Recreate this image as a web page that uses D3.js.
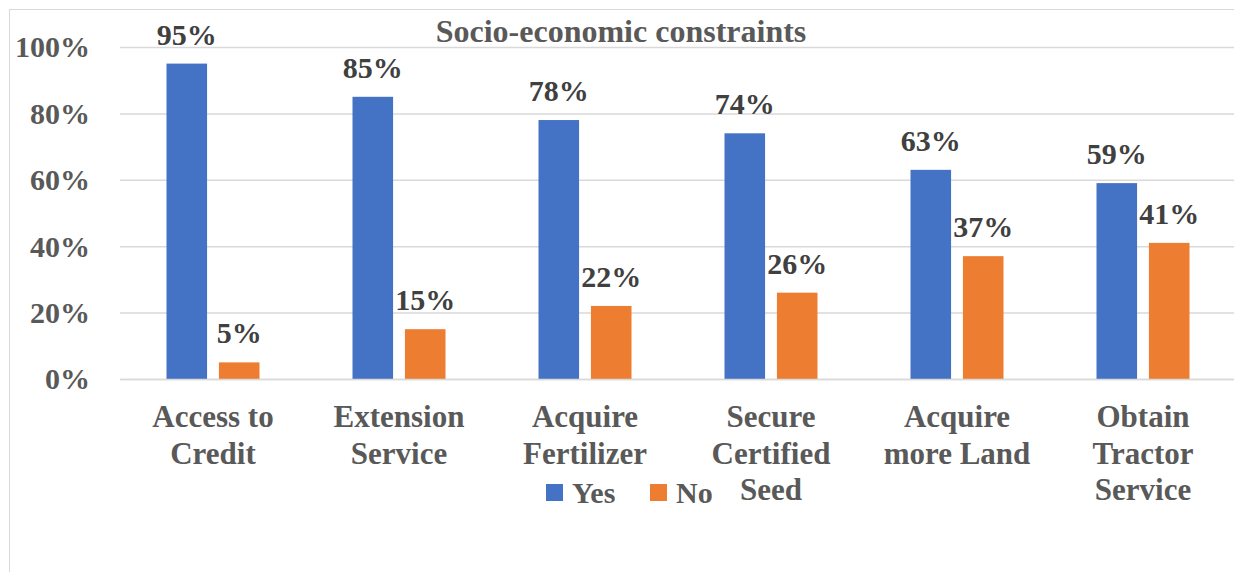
<!DOCTYPE html>
<html>
<head>
<meta charset="utf-8">
<script src="https://cdn.jsdelivr.net/npm/d3@7"></script>
<style>
  body { margin: 0; background: #fff; }
  text { font-family: "Liberation Serif", "Times New Roman", serif; font-weight: bold; }
</style>
</head>
<body>
<script>
// chart data
var categories = [
    ["Access to", "Credit"],
    ["Extension", "Service"],
    ["Acquire", "Fertilizer"],
    ["Secure", "Certified", "Seed"],
    ["Acquire", "more Land"],
    ["Obtain", "Tractor", "Service"]
];
var seriesNames = ["Yes", "No"];
var yesValues = [95, 85, 78, 74, 63, 59];
var noValues = [5, 15, 22, 26, 37, 41];
var yTicks = [0, 20, 40, 60, 80, 100];
var colors = ["#4472C4", "#ED7D31"];

var width = 1234, height = 572;
var plotLeft = 120, plotRight = 1236, plotTop = 47, plotBottom = 379;

var svg = d3.select("body").append("svg")
    .attr("width", width)
    .attr("height", height);

// chart area border (only the left/top edges are in view)
svg.append("rect")
    .attr("x", 9.5).attr("y", 9.5)
    .attr("width", 1240).attr("height", 600)
    .attr("fill", "none")
    .attr("stroke", "#d9d9d9");

var keys = categories.map(function(c) { return c.join(" "); });

var x0 = d3.scaleBand().domain(keys).range([plotLeft, plotRight]);
var x1 = d3.scaleBand().domain(seriesNames)
    .range([46.5, 139.5]).paddingInner(0.226);
var y = d3.scaleLinear().domain([0, 100]).range([plotBottom, plotTop]);

// y axis with gridlines
var yAxis = svg.append("g")
    .attr("transform", "translate(" + plotLeft + ",0)")
    .call(d3.axisLeft(y)
        .tickValues(yTicks)
        .tickFormat(function(d) { return d + "%"; })
        .tickSizeInner(-(width - plotLeft))
        .tickSizeOuter(0)
        .tickPadding(30));
yAxis.select(".domain").remove();
yAxis.selectAll("line").attr("stroke", "#d9d9d9").attr("stroke-width", 1.5);
yAxis.selectAll("text")
    .attr("fill", "#595959")
    .style("font-size", "30px")
    .attr("dy", "0.33em");

// bars
var rows = keys.map(function(k, i) {
    return { key: k, values: [yesValues[i], noValues[i]] };
});

var groups = svg.append("g").selectAll("g")
    .data(rows)
    .enter().append("g")
    .attr("transform", function(d) { return "translate(" + x0(d.key) + ",0)"; });

groups.selectAll("rect")
    .data(function(d) { return d.values.map(function(v, j) { return { s: seriesNames[j], v: v, j: j }; }); })
    .enter().append("rect")
    .attr("x", function(d) { return x1(d.s); })
    .attr("width", x1.bandwidth())
    .attr("y", function(d) { return y(d.v); })
    .attr("height", function(d) { return plotBottom - y(d.v); })
    .attr("fill", function(d) { return colors[d.j]; });

groups.selectAll("text.lbl")
    .data(function(d) { return d.values.map(function(v, j) { return { s: seriesNames[j], v: v }; }); })
    .enter().append("text")
    .attr("class", "lbl")
    .attr("x", function(d) { return x1(d.s) + x1.bandwidth() / 2; })
    .attr("y", function(d) { return y(d.v) - 19; })
    .attr("text-anchor", "middle")
    .attr("fill", "#404040")
    .style("font-size", "30px")
    .text(function(d) { return d.v + "%"; });

// category labels
var xAxis = svg.append("g")
    .attr("transform", "translate(0," + plotBottom + ")")
    .call(d3.axisBottom(x0).tickSize(0).tickFormat(""));
xAxis.select(".domain").attr("stroke", "#d9d9d9").attr("stroke-width", 1.5);

xAxis.selectAll(".tick text").each(function(d, i) {
    var t = d3.select(this)
        .attr("fill", "#595959")
        .style("font-size", "31px")
        .attr("y", 0).attr("dy", null);
    categories[i].forEach(function(line, k) {
        t.append("tspan")
            .attr("x", 0)
            .attr("y", 48 + k * 36.5)
            .text(line);
    });
});

// title
svg.append("text")
    .attr("x", 621)
    .attr("y", 42)
    .attr("text-anchor", "middle")
    .attr("fill", "#595959")
    .style("font-size", "32px")
    .text("Socio-economic constraints");

// legend
var legendX = [546, 650];
var legend = svg.append("g").selectAll("g")
    .data(seriesNames)
    .enter().append("g")
    .attr("transform", function(d, i) { return "translate(" + legendX[i] + ",484)"; });
legend.append("rect")
    .attr("width", 17).attr("height", 17)
    .attr("fill", function(d, i) { return colors[i]; });
legend.append("text")
    .attr("x", 26).attr("y", 19)
    .attr("fill", "#595959")
    .style("font-size", "30px")
    .text(function(d) { return d; });
</script>
</body>
</html>
